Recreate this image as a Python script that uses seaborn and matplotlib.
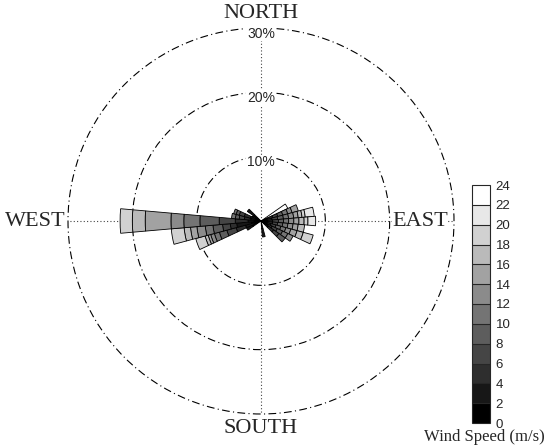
import numpy as np
import matplotlib
matplotlib.use("Agg")
import matplotlib.pyplot as plt
import matplotlib as mpl
import seaborn as sns

# wind direction sectors (deg, 10 deg wide) and frequency (%) per speed bin
speed_edges = [0, 2, 4, 6, 8, 10, 12, 14, 16, 18, 20, 22, 24]
directions = [60, 70, 80, 90, 100, 110, 120, 130, 170, 240, 250, 260, 270, 280, 290, 300, 310]

s060 = [0, 0, 0, 0, 0, 0, 0, 0, 0, 0, 0, 4.6]
s070 = [0.5, 0.6, 0.8, 0.8, 0.8, 0.8, 0.7, 1.0]
s080 = [0.4, 0.5, 0.8, 0.9, 0.9, 0.8, 0.8, 0.7, 0.6, 0.5, 1.4]
s090 = [0.4, 0.6, 0.8, 0.9, 0.8, 0.8, 0.8, 0.8, 0.8, 0.6, 1.2]
s100 = [0.4, 0.6, 0.8, 0.8, 0.8, 0.8, 0.8, 0.8, 1.0]
s110 = [0.4, 0.5, 0.7, 0.8, 0.8, 0.8, 0.8, 1.0, 1.0, 1.6]
s120 = [0.5, 0.6, 0.8, 0.9, 0.9, 0.9, 0.9]
s130 = [0.6, 0.8, 1.0, 1.0, 1.2]
s170 = [1.2, 1.3]
s240 = [1.5, 1.0]
s250 = [1.0, 1.5, 1.5, 1.5, 1.2, 0.8, 0.6, 0.4, 0.5, 1.5]
s260 = [1.5, 2.3, 1.0, 1.2, 1.5, 1.2, 1.3, 1.0, 1.0, 2.0]
s270 = [1.0, 1.0, 2.0, 2.5, 3.0, 2.5, 2.0, 4.0, 2.0, 1.9]
s280 = [0.8, 0.8, 1.0, 0.8, 0.6, 0.6]
s290 = [0.8, 0.9, 1.0, 0.8, 0.5, 0.4]
s300 = [0.9, 0.6]
s310 = [1.4, 1.2]
sectors = [s060, s070, s080, s090, s100, s110, s120, s130, s170,
           s240, s250, s260, s270, s280, s290, s300, s310]

rings = [10, 20, 30]
compass = ["NORTH", "EAST", "SOUTH", "WEST"]

sns.set_style("white")
plt.rcParams["font.family"] = ["Liberation Sans", "DejaVu Sans"]

n_bins = len(speed_edges) - 1
palette = sns.blend_palette(["black", "white"], n_bins)

fig = plt.figure(figsize=(5.5, 4.46), dpi=100)
ax = fig.add_axes([68 / 550, 32 / 446, 386 / 550, 386 / 446], projection="polar")
ax.set_theta_zero_location("N")
ax.set_theta_direction(-1)

width = np.deg2rad(10)
for d, freqs in zip(directions, sectors):
    bottom = 0
    for k, f in enumerate(freqs):
        if f <= 0:
            continue
        ax.bar(np.deg2rad(d), f, width=width, bottom=bottom, color=palette[k],
               edgecolor="black", linewidth=0.6, zorder=3)
        bottom += f

ax.set_ylim(0, 30)
ax.set_yticks(rings)
ax.set_yticklabels([])
ax.set_xticks(np.deg2rad([0, 90, 180, 270]))
ax.set_xticklabels([])
ax.yaxis.grid(True, linestyle=(0, (7, 3, 1, 3)), color="black", linewidth=0.8)
ax.xaxis.grid(True, linestyle=(0, (1, 2)), color="#444444", linewidth=0.8)
for gl in ax.yaxis.get_gridlines():
    gl.set_clip_on(False)
ax.spines["polar"].set_visible(False)

for r in rings:
    ax.text(0, r - 0.9, f"{r}%", ha="center", va="center", fontsize=10,
            bbox=dict(fc="white", ec="none", pad=0.5), zorder=4)

serif = ["Liberation Serif", "DejaVu Serif"]
ax.text(np.deg2rad(0), 32.3, compass[0], ha="center", va="center", fontsize=16, family=serif, clip_on=False)
ax.text(np.deg2rad(90), 24.7, compass[1], ha="center", va="center", fontsize=16, family=serif, clip_on=False,
        bbox=dict(fc="white", ec="none", pad=0))
ax.text(np.deg2rad(180), 32.3, compass[2], ha="center", va="center", fontsize=16, family=serif, clip_on=False)
ax.text(np.deg2rad(270), 35.1, compass[3], ha="center", va="center", fontsize=16, family=serif, clip_on=False)

# colour bar
cax = fig.add_axes([472 / 550, 23 / 446, 18 / 550, 238 / 446])
cmap = mpl.colors.ListedColormap(palette)
norm = mpl.colors.BoundaryNorm(speed_edges, cmap.N)
cb = mpl.colorbar.ColorbarBase(cax, cmap=cmap, norm=norm, ticks=speed_edges,
                               drawedges=True, orientation="vertical")
cb.outline.set_linewidth(0.8)
cb.dividers.set_linewidth(0.8)
cax.tick_params(length=0, labelsize=9.5, pad=4)
fig.text(484 / 550, 1 - 437 / 446, "Wind Speed (m/s)", ha="center", va="center",
         fontsize=12, family=serif)

fig.savefig("out.png", dpi=100)
